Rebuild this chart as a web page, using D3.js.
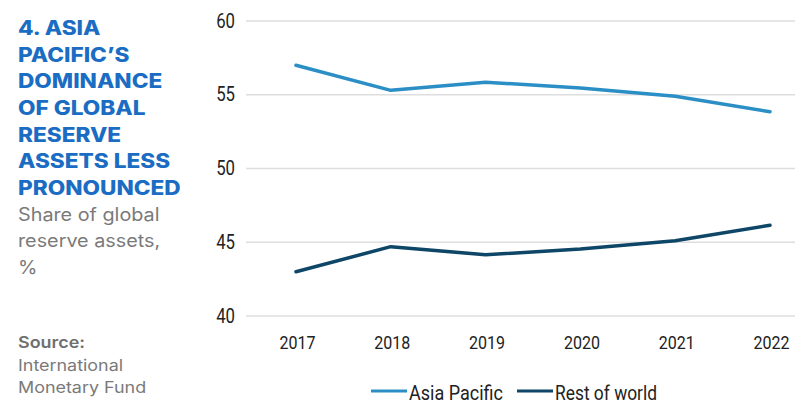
<!DOCTYPE html>
<html>
<head>
<meta charset="utf-8">
<script src="https://cdn.jsdelivr.net/npm/d3@7"></script>
<style>
  body { margin: 0; background: #fff; }
  svg { display: block; }
</style>
</head>
<body>
<div id="chart"></div>
<script>
// data
const years = ["2017", "2018", "2019", "2020", "2021", "2022"];
const asiaPacific = [57.0, 55.3, 55.85, 55.45, 54.9, 53.85];
const restOfWorld = [43.0, 44.7, 44.15, 44.55, 45.1, 46.15];
const yTicks = [40, 45, 50, 55, 60];
const seriesNames = ["Asia Pacific", "Rest of world"];
const seriesColors = ["#2b8fc6", "#0e4667"];
const titleLines = ["4. ASIA", "PACIFIC\u2019S", "DOMINANCE", "OF GLOBAL", "RESERVE", "ASSETS LESS", "PRONOUNCED"];
const subtitleLines = ["Share of global", "reserve assets,", "%"];
const sourceLines = ["International", "Monetary Fund"];

let width = 795, height = 407;

let svg = d3.select("#chart").append("svg")
  .attr("width", width)
  .attr("height", height);

// left text block
let txt = svg.append("g").attr("font-family", "Inter, 'Open Sans', sans-serif");

// title, widened to match the broad geometric face
txt.append("g")
  .attr("transform", "translate(18,0) scale(1.16,1)")
  .selectAll("text")
  .data(titleLines)
  .enter().append("text")
  .attr("x", 0)
  .attr("y", (d, i) => 35 + i * 26.7)
  .attr("fill", "#1b6dc3")
  .attr("font-size", 19.5)
  .attr("font-weight", 800)
  .text(d => d);

txt.append("g")
  .attr("transform", "translate(18,0) scale(1.1,1)")
  .selectAll("text")
  .data(subtitleLines)
  .enter().append("text")
  .attr("x", 0)
  .attr("y", (d, i) => 221 + i * 26.5)
  .attr("fill", "#7a7a7a")
  .attr("font-size", 18)
  .text(d => d);

let src = txt.append("g")
  .attr("transform", "translate(18,0) scale(1.12,1)");

src.append("text")
  .attr("x", 0).attr("y", 348)
  .attr("fill", "#6f6f6f")
  .attr("font-size", 16)
  .attr("font-weight", 600)
  .text("Source:");

src.selectAll("text.src")
  .data(sourceLines)
  .enter().append("text")
  .attr("class", "src")
  .attr("x", 0)
  .attr("y", (d, i) => 371 + i * 22)
  .attr("fill", "#7a7a7a")
  .attr("font-size", 16)
  .text(d => d);

// chart
let x = d3.scalePoint().domain(years).range([296, 770]);
let y = d3.scaleLinear().domain([40, 60]).range([316, 21]);

let grid = svg.append("g");
grid.selectAll("line")
  .data(yTicks)
  .enter().append("line")
  .attr("x1", 246).attr("x2", 795)
  .attr("y1", d => y(d)).attr("y2", d => y(d))
  .attr("stroke", "#dedede")
  .attr("stroke-width", 1.5);

let yAxis = svg.append("g")
  .attr("transform", "translate(235,0)")
  .call(d3.axisLeft(y).tickValues(yTicks).tickSize(0).tickPadding(0));
yAxis.select(".domain").remove();
yAxis.selectAll("text")
  .attr("font-family", "Roboto, sans-serif")
  .attr("font-size", 19.5)
  .attr("fill", "#222")
  .attr("transform", "scale(0.86,1)")
  .attr("x", 0);

let xAxis = svg.append("g")
  .attr("transform", "translate(0,349)")
  .call(d3.axisBottom(x).tickSize(0).tickPadding(0));
xAxis.select(".domain").remove();
xAxis.selectAll("text")
  .attr("font-family", "Roboto, sans-serif")
  .attr("font-size", 19)
  .attr("fill", "#222")
  .attr("dy", 0)
  .attr("dx", 1)
  .attr("textLength", 36)
  .attr("lengthAdjust", "spacingAndGlyphs");

let line = d3.line()
  .x((d, i) => x(years[i]))
  .y(d => y(d));

[asiaPacific, restOfWorld].forEach((s, k) => {
  svg.append("path")
    .datum(s)
    .attr("d", line)
    .attr("fill", "none")
    .attr("stroke", seriesColors[k])
    .attr("stroke-width", 3.5)
    .attr("stroke-linecap", "round")
    .attr("stroke-linejoin", "round");
});

// legend
let legend = svg.append("g").attr("transform", "translate(371,391)");
let legX = [0, 146];
seriesNames.forEach((n, k) => {
  let lg = legend.append("g").attr("transform", `translate(${legX[k]},0)`);
  lg.append("line")
    .attr("x1", 0).attr("x2", 36)
    .attr("stroke", seriesColors[k])
    .attr("stroke-width", 3);
  lg.append("text")
    .attr("x", 38).attr("y", 8.5)
    .attr("font-family", "Roboto, sans-serif")
    .attr("font-size", 20)
    .attr("fill", "#222")
    .attr("textLength", k == 0 ? 94 : 102)
    .attr("lengthAdjust", "spacingAndGlyphs")
    .text(n);
});
</script>
</body>
</html>
